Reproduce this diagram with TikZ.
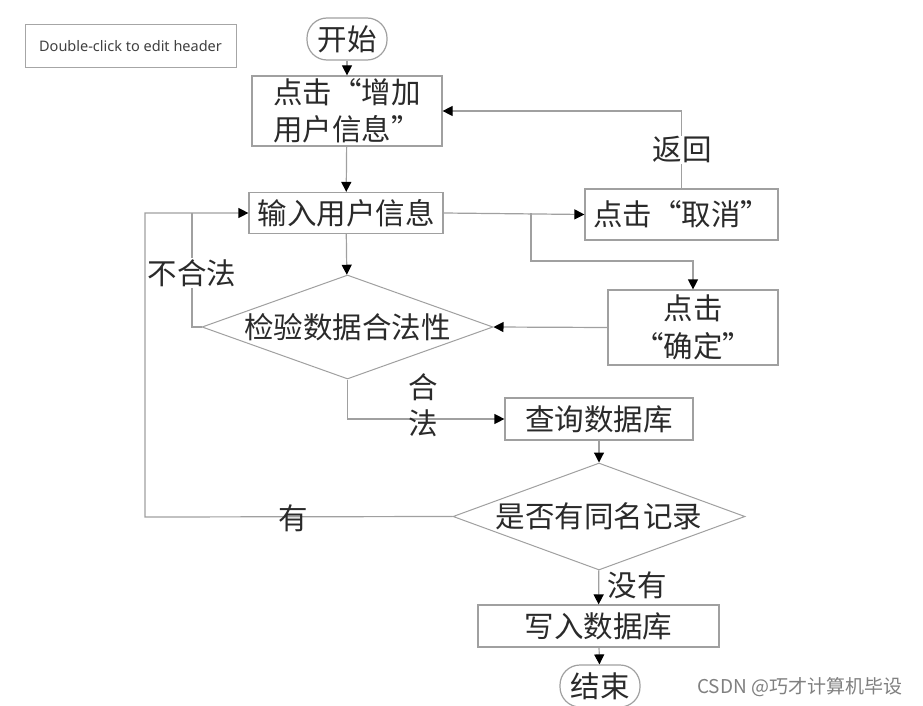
\documentclass[tikz,border=0pt]{standalone}
\usepackage{fontspec}
\setmainfont{Noto Sans}
\newfontfamily\cjk{Noto Sans CJK SC}
\usetikzlibrary{shapes.geometric,arrows.meta,calc}
\definecolor{linegray}{HTML}{A0A0A0}
\definecolor{txtgray}{HTML}{2A2A2A}
\begin{document}
\begin{tikzpicture}[x=1pt,y=-1pt,
  every node/.style={font=\cjk\fontsize{29.5}{33}\selectfont, text=txtgray},
  procbox/.style={draw=linegray, line width=1.2pt, rectangle, inner sep=0pt},
  termbox/.style={draw=linegray, line width=1.2pt, rectangle, rounded corners=20pt, inner sep=0pt, minimum width=80pt, minimum height=42pt},
  decbox/.style={draw=linegray, line width=1pt, diamond, aspect=3, inner sep=0pt},
  conn/.style={draw=linegray, line width=1.2pt},
  arr/.style={conn, -{Triangle[length=10pt,width=10pt,color=black]}},
  lbl/.style={fill=white, inner sep=1pt}
]
\useasboundingbox (0,0) rectangle (923,706);
\fill[white] (0,0) rectangle (923,706);

% header
\node[draw=black!35, line width=1pt, minimum width=211pt, minimum height=43pt, inner sep=0pt,
      font=\fontsize{14.5}{17}\selectfont, text=black!75] (hdr) at (130.5,46.5) {Double-click to edit header};

% nodes
\node[termbox] (start) at (347,39) {开始};
\node[procbox, minimum width=190pt, minimum height=70pt, align=center,
      font=\cjk\fontsize{29.5}{37}\selectfont] (b1) at (347,111) {点击“增加\\用户信息”};
\node[procbox, minimum width=194pt, minimum height=41pt] (b2) at (346,213) {输入用户信息};
\node[procbox, minimum width=193pt, minimum height=51pt] (cancel) at (681.5,214.5) {点击“取消”};
\node[procbox, minimum width=170pt, minimum height=75pt, align=center,
      font=\cjk\fontsize{29.5}{38}\selectfont] (ok) at (693,327.5) {点击\\“确定”};
\node[decbox, minimum width=291pt, minimum height=104pt] (d1) at (347.5,327) {检验数据合法性};
\node[procbox, minimum width=188pt, minimum height=42pt] (q) at (599,419) {查询数据库};
\node[decbox, minimum width=292pt, minimum height=107pt] (d2) at (599,516.5) {是否有同名记录};
\node[procbox, minimum width=241pt, minimum height=42pt] (w) at (598.5,626) {写入数据库};
\node[termbox] (end) at (600,686) {结束};

% helper coordinates
\coordinate (br) at (531,213);
\coordinate (brdown) at (531,261);
\coordinate (ill) at (192,213);
\coordinate (yc) at (145,517);

% connectors
\draw[arr] (start) -- (b1);
\draw[arr] (b1) -- (b2);
\draw[arr] (b2) -- (d1);
\draw[arr] (b2.east) -- (cancel.west);
\draw[arr] (br) -- (brdown) -| (ok.north);
\draw[arr] (ok.west) -- (d1.east);
\draw[arr] (cancel.north) |- (b1.east);
\draw[conn] (d1.west) -| (ill);
\draw[arr] (d2.west) -- (yc) |- (b2.west);
\draw[arr] (d1.south) |- (q.west);
\draw[arr] (q) -- (d2);
\draw[arr] (d2) -- (w);
\draw[arr] (w) -- (end);

% labels
\node[lbl] (lret) at (682,150) {返回};
\node[lbl] (lbad) at (192,273) {不合法};
\node (lok1) at (423,387) {合};
\node (lok2) at (423,423) {法};
\node (lyes) at (293,518) {有};
\node (lno) at (637,585) {没有};

% watermark
\node[anchor=west, inner sep=0pt, font=\cjk\fontsize{19}{22}\selectfont, text=black!50] (wm) at (697,687) {CSDN @巧才计算机毕设};
\end{tikzpicture}
\end{document}
